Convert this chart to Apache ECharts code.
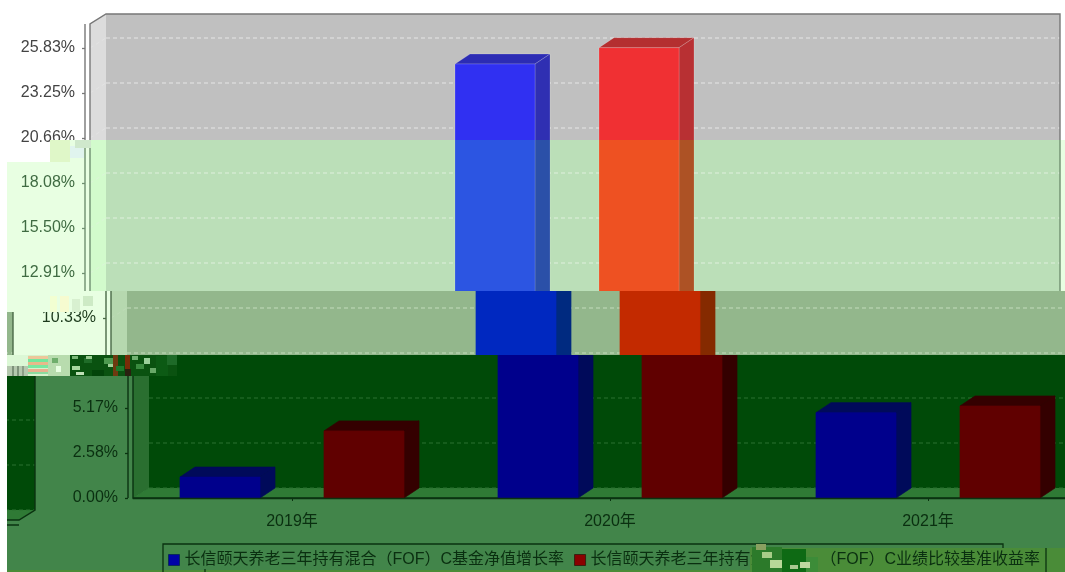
<!DOCTYPE html>
<html><head><meta charset="utf-8">
<style>html,body{margin:0;padding:0;background:#fff}#c{width:1065px;height:572px;filter:blur(0.55px)}</style>
<script src="https://cdn.jsdelivr.net/npm/echarts@6/dist/echarts.min.js"></script>
</head><body><div id="c"></div>
<script>
const categories = ['2019年', '2020年', '2021年'];
const navGrowth = [1.2, 24.91, 4.9];
const benchmark = [3.85, 25.85, 5.28];
const seriesNames = ['长信颐天养老三年持有混合（FOF）C基金净值增长率', '长信颐天养老三年持有混合（FOF）C业绩比较基准收益率'];
const tickStep = 2.5829;
const tickValues = [0, 1, 2, 3, 4, 5, 6, 7, 8, 9, 10].map(i => i * tickStep);
const labelsTop = [10, 9, 8];
const labelsMid = [7, 6, 5];
const labelsLow = [4];
const labelsBottom = [2, 1, 0];

const F = '"Liberation Sans", "Noto Sans CJK SC", sans-serif';
const GX = 133, GW = 954, GT = 24, GB = 498, DX = 16, DY = 10, BARW = 80, BAROFF = 72, SIDE = 15;

const looks = {
  a: {page: '#ffffff', wall: '#c0c0c0', side: '#dcdcdc', floor: '#dcdcdc', grid: '#e6e6e6', line: '#777777',
      blue: ['#3030f2', '#2f2fb2', '#2c2cb4'], red: ['#f03033', '#b83033', '#b42f30'], edge: 0.25, text: '#444444'},
  b: {page: '#e8ffe2', wall: '#bbdfb8', side: '#d2fbcc', floor: '#d2fbcc', grid: '#dff0dd', line: '#6f8f70',
      blue: ['#2c55e2', '#2b50a8', '#2a4fa8'], red: ['#ee5122', '#ad5225', '#ad5225'], edge: 0.2, text: '#3f6b42'},
  c: {page: '#e8ffe2', wall: '#93b78c', side: '#b6d8af', floor: '#b6d8af', grid: '#c3dcbc', line: '#4a6a48',
      blue: ['#0028c0', '#002a80', '#002a80'], red: ['#c32a00', '#852a00', '#852a00'], edge: 0, text: '#1c3a1c'},
  d: {page: '#42854a', wall: '#004a08', side: '#2a6f30', floor: '#2f7a35', grid: '#2a7030', line: '#0a3210',
      blue: ['#00008c', '#000a5a', '#000a5a'], red: ['#600000', '#340000', '#340000'], edge: 0, text: '#0a2f10'}
};

const bands = [
  {look: 'a', shift: -43, z: 1, clip: [[0,0],[1065,0],[1065,140],[50,140],[50,162],[0,162]]},
  {look: 'b', shift: -43, z: 3, clip: [[50,140],[1065,140],[1065,291],[7,291],[7,162],[50,162]]},
  {look: 'c', shift: -22, z: 6, clip: [[7,291],[1065,291],[1065,355],[7,355]]},
  {look: 'c', shift: -1090, z: 6.5, noPage: true, clip: [[7,312],[14,312],[14,355],[7,355]]},
  {look: 'd', shift: 0, z: 10, clip: [[177,355],[1065,355],[1065,572],[7,572],[7,376],[177,376]]},
  {look: 'd', shift: -1068, dy: 22, z: 10.5, noPage: true, xLine: true, clip: [[7,376],[60,376],[60,572],[7,572]]}
];

function clipOf(b) { return {type: 'polygon', shape: {points: b.clip}}; }

function chromeItem(b) {
  return function (params, api) {
    const L = looks[b.look], cs = params.coordSys, s = b.shift, dy = b.dy || 0;
    const x0 = cs.x + s, x1 = cs.x + cs.width + s, yT = cs.y + dy, yB = cs.y + cs.height + dy;
    const kids = [];
    if (!b.noPage) kids.push({type: 'rect', shape: {x: -10, y: 0, width: 1100, height: 572}, style: {fill: L.page}});
    kids.push({type: 'rect', shape: {x: x0 + DX, y: yT - DY, width: x1 - x0, height: yB - yT}, style: {fill: L.wall}});
    kids.push({type: 'polygon', shape: {points: [[x0, yT], [x0 + DX, yT - DY], [x0 + DX, yB - DY], [x0, yB]]}, style: {fill: L.side}});
    kids.push({type: 'polygon', shape: {points: [[x0, yB], [x0 + DX, yB - DY], [x1 + DX, yB - DY], [x1, yB]]}, style: {fill: L.floor}});
    tickValues.forEach(v => {
      const y = api.coord([0, v])[1] + dy;
      kids.push({type: 'line', shape: {x1: x0 + DX, y1: y - DY, x2: x1 + DX, y2: y - DY}, style: {stroke: L.grid, lineWidth: 1, lineDash: [4, 3]}});
      kids.push({type: 'line', shape: {x1: x0, y1: y, x2: x0 + DX, y2: y - DY}, style: {stroke: L.grid, lineWidth: 1, lineDash: [4, 3], opacity: 0.6}});
    });
    const ln = {stroke: L.line, lineWidth: 1.4, fill: 'none'};
    kids.push({type: 'polyline', shape: {points: [[x0, yB], [x0, yT], [x0 + DX, yT - DY], [x1 + DX, yT - DY], [x1 + DX, yB - DY], [x1, yB], [x0, yB]]}, style: ln});
    kids.push({type: 'line', shape: {x1: x0 - 5, y1: yT, x2: x0 - 5, y2: yB}, style: ln});
    if (b.xLine) kids.push({type: 'line', shape: {x1: x0 - 5, y1: yB + 5, x2: x1, y2: yB + 5}, style: ln});
    return {type: 'group', clipPath: clipOf(b), children: kids};
  };
}

function barItem(b, sign, key) {
  return function (params, api) {
    const L = looks[b.look], c = L[key];
    const top = api.coord([api.value(0), api.value(1)]), base = api.coord([api.value(0), 0]);
    const x = top[0] + sign * BAROFF - BARW / 2 + b.shift, y = top[1], yb = base[1];
    const st = f => ({fill: f, stroke: L.edge ? 'rgba(255,255,255,' + L.edge + ')' : f, lineWidth: 0.7});
    return {type: 'group', clipPath: clipOf(b), children: [
      {type: 'polygon', shape: {points: [[x, y], [x + SIDE, y - DY], [x + BARW + SIDE, y - DY], [x + BARW, y]]}, style: st(c[2])},
      {type: 'polygon', shape: {points: [[x + BARW, y], [x + BARW + SIDE, y - DY], [x + BARW + SIDE, yb - DY], [x + BARW, yb]]}, style: st(c[1])},
      {type: 'rect', shape: {x: x, y: y, width: BARW, height: yb - y}, style: st(c[0])}
    ]};
  };
}

const series = [];
bands.forEach(b => {
  series.push({type: 'custom', silent: true, z: b.z, data: [[0, 0]], renderItem: chromeItem(b), clip: false, name: 'chrome' + b.z});
  if (b.shift > -500) {
    series.push({type: 'custom', silent: true, z: b.z + 0.2, name: seriesNames[0], itemStyle: {color: '#00008c'}, clip: false,
      data: categories.map((c, i) => [i, navGrowth[i]]), renderItem: barItem(b, -1, 'blue')});
    series.push({type: 'custom', silent: true, z: b.z + 0.2, name: seriesNames[1], itemStyle: {color: '#8a0000'}, clip: false,
      data: categories.map((c, i) => [i, benchmark[i]]), renderItem: barItem(b, 1, 'red')});
  }
});

function yAxisFor(idx, offset, look, z) {
  const vals = idx.map(i => tickValues[i]);
  return {type: 'value', min: 0, max: (GB - GT) / 45 * tickStep, interval: tickStep, position: 'left', offset: offset, z: z,
    splitLine: {show: false}, axisLine: {show: false},
    axisTick: {show: true, length: 3, customValues: vals, lineStyle: {color: looks[look].line, width: 1.3}},
    axisLabel: {show: true, customValues: vals, margin: 10, padding: [2, 0, 0, 0], fontFamily: F, fontSize: 16, color: looks[look].text,
      formatter: v => v.toFixed(2) + '%'}};
}

const patches = [
  // left edge tears between the bands
  [50,140,20,22,'#dff7c8'],[70,146,14,12,'#e0f4ee'],[75,140,16,8,'#cfe8cc'],
  [7,291,70,21,'#e8ffe2'],[50,296,7,16,'#f2ffd2'],[60,296,9,16,'#f6fbd0'],[72,299,8,13,'#d8f0d0'],[83,296,10,10,'#cdeac5'],
  [7,355,21,11,'#dcf8d6'],[7,366,21,10,'#b4c8ae'],[12,366,2,10,'#7d927a'],[17,366,2,10,'#7d927a'],[22,366,2,10,'#8d9f88'],
  [28,355,20,21,'#d6f2cc'],[28,356,20,3,'#ecc79a'],[28,359,20,3,'#74e79c'],[28,362,20,3,'#e8b98a'],[28,365,20,3,'#7ae8a0'],[28,369,20,3,'#e8b08e'],[28,372,20,2,'#8cdca0'],
  [48,355,22,21,'#b8dcae'],[52,358,6,5,'#6fae6c'],[56,366,5,6,'#e8ffe2'],
  [70,355,107,21,'#0a5210'],[72,356,6,3,'#7ab878'],[72,366,8,4,'#a8d8a0'],[76,372,8,3,'#c0e0b8'],[84,358,8,5,'#1f6c28'],[92,370,12,6,'#03440a'],
  [86,356,6,3,'#98cc90'],[104,358,10,6,'#4e9a50'],[108,364,6,3,'#a0d098'],[113,355,5,21,'#6e3a10'],[116,366,8,5,'#1e7a2a'],[125,355,5,14,'#7a2c08'],[125,369,6,7,'#2a2010'],
  [132,356,6,4,'#70b070'],[136,364,8,5,'#3a8c40'],[144,358,6,6,'#9ad09a'],[150,368,6,5,'#68a868'],[156,356,12,20,'#0c5a14'],[167,355,10,10,'#1e6a28']
];

const legendOverlay = [
  [750,548,315,24,'#4a8c38'],[7,570,1058,2,'#4a8c38']
];
const legendTear = [
  [752,547,30,25,'#2c7a2a'],[782,549,24,23,'#0e6a14'],[806,557,12,15,'#3c8c38'],
  [756,544,10,6,'#8aa060'],[762,552,10,6,'#a8cc88'],[770,560,12,8,'#b8d898'],[790,565,8,4,'#a8c890'],[800,562,10,6,'#c0d8a0']
];

const rectEl = (p, z) => ({type: 'rect', z: z, silent: true, shape: {x: p[0], y: p[1], width: p[2], height: p[3]}, style: {fill: p[4]}});
const lineEl = (pts, z) => ({type: 'polyline', z: z, silent: true, shape: {points: pts}, style: {stroke: '#0a3210', lineWidth: 1.3, fill: 'none'}});

const option = {
  animation: false,
  backgroundColor: '#ffffff',
  grid: {left: GX, top: GT, width: GW, height: GB - GT, containLabel: false, outerBoundsMode: 'none'},
  xAxis: {type: 'category', data: categories, offset: 5, z: 12,
    axisLine: {show: true, lineStyle: {color: '#0a3210', width: 1.4}},
    axisTick: {show: true, alignWithLabel: true, length: 3, lineStyle: {color: '#0a3210'}},
    axisLabel: {margin: 11, fontFamily: F, fontSize: 16, color: looks.d.text},
    splitLine: {show: false}},
  yAxis: [
    yAxisFor(labelsTop, 48, 'a', 2),
    yAxisFor(labelsMid, 48, 'b', 5),
    yAxisFor(labelsLow, 27, 'c', 8),
    yAxisFor(labelsBottom, 5, 'd', 12)
  ],
  legend: {show: true, z: 14, left: 168, top: 552, orient: 'horizontal', padding: 0, itemWidth: 11, itemHeight: 11, itemGap: 10,
    icon: 'rect', selectedMode: false,
    data: [{name: seriesNames[0], itemStyle: {color: '#0000a8', borderColor: '#0a2a5a', borderWidth: 1}},
           {name: seriesNames[1], itemStyle: {color: '#8a0000', borderColor: '#3a2010', borderWidth: 1}}],
    formatter: n => {
      const i = n.indexOf('（');
      return n === seriesNames[1] ? '{t|' + n.slice(0, i) + '}{g|}{t|' + n.slice(i) + '}' : '{t|' + n + '}';
    },
    textStyle: {fontFamily: F, fontSize: 16, color: looks.d.text, rich: {t: {fontFamily: F, fontSize: 16, color: looks.d.text}, g: {width: 38}}}},
  graphic: {elements: []
    .concat(patches.map(p => rectEl(p, 13)))
    .concat(legendOverlay.map(p => rectEl(p, 13)))
    .concat(legendTear.map(p => rectEl(p, 15)))
    .concat([lineEl([[163,572],[163,544],[1003,544],[1003,548]], 13.5), lineEl([[1046,548],[1046,572]], 13.5), lineEl([[205,569],[205,572]], 13.5)])},
  series: series
};
const chart = echarts.init(document.getElementById('c'), null, {renderer: 'canvas', width: 1065, height: 572});
chart.setOption(option);
</script></body></html>
